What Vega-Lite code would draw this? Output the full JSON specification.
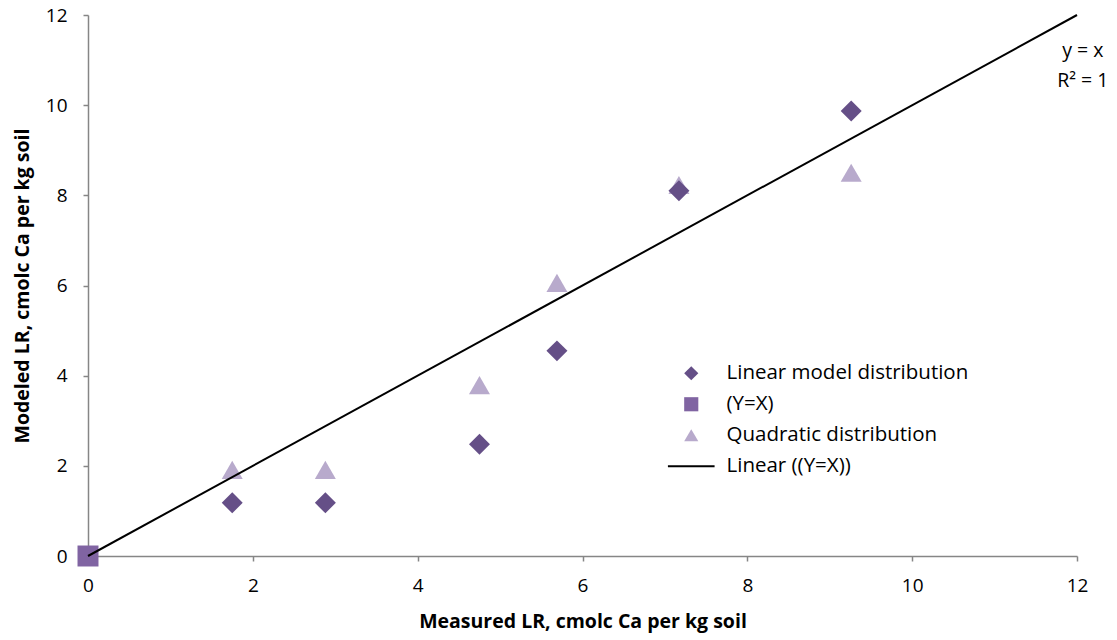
{
  "$schema": "https://vega.github.io/schema/vega-lite/v6.json",
  "width": 989,
  "height": 541,
  "autosize": {"type": "none"},
  "padding": {"left": 88, "top": 15, "right": 40, "bottom": 84},
  "background": "white",
  "config": {
    "view": {"stroke": null},
    "font": "Open Sans",
    "axis": {
      "grid": false,
      "domainColor": "#868686",
      "tickColor": "#868686",
      "tickSize": 5,
      "domainWidth": 1.5,
      "tickWidth": 1.5,
      "labelFont": "Open Sans",
      "labelFontSize": 19,
      "labelColor": "#000000",
      "labelFlush": false,
      "titleFont": "Open Sans",
      "titleFontSize": 19.5,
      "titleFontWeight": "bold",
      "titleColor": "#000000"
    }
  },
  "datasets": {
    "points": [
      {"series": "Linear model distribution", "measured": 1.75, "modeled": 1.18},
      {"series": "Linear model distribution", "measured": 2.88, "modeled": 1.18},
      {"series": "Linear model distribution", "measured": 4.75, "modeled": 2.48},
      {"series": "Linear model distribution", "measured": 5.69, "modeled": 4.55},
      {"series": "Linear model distribution", "measured": 7.17, "modeled": 8.1},
      {"series": "Linear model distribution", "measured": 9.26, "modeled": 9.87},
      {"series": "(Y=X)", "measured": 0, "modeled": 0},
      {"series": "Quadratic distribution", "measured": 1.75, "modeled": 1.91},
      {"series": "Quadratic distribution", "measured": 2.88, "modeled": 1.91},
      {"series": "Quadratic distribution", "measured": 4.75, "modeled": 3.79},
      {"series": "Quadratic distribution", "measured": 5.69, "modeled": 6.06},
      {"series": "Quadratic distribution", "measured": 7.17, "modeled": 8.23},
      {"series": "Quadratic distribution", "measured": 9.26, "modeled": 8.5}
    ],
    "trend": [
      {"measured": 0, "modeled": 0},
      {"measured": 12, "modeled": 12}
    ],
    "annotation": [
      {"measured": 12.07, "modeled": 11.2}
    ]
  },
  "layer": [
    {
      "data": {"name": "points"},
      "mark": {"type": "point", "filled": true, "opacity": 1, "size": 440},
      "encoding": {
        "x": {
          "field": "measured", "type": "quantitative",
          "scale": {"domain": [0, 12], "nice": false},
          "axis": {"values": [0, 2, 4, 6, 8, 10, 12], "format": "d", "title": "Measured LR, cmolc Ca per kg soil", "labelPadding": 15, "titlePadding": 17}
        },
        "y": {
          "field": "modeled", "type": "quantitative",
          "scale": {"domain": [0, 12], "nice": false},
          "axis": {"values": [0, 2, 4, 6, 8, 10, 12], "format": "d", "title": "Modeled LR, cmolc Ca per kg soil", "labelPadding": 16, "titlePadding": 13}
        },
        "color": {
          "field": "series", "type": "nominal",
          "scale": {
            "domain": ["Linear model distribution", "(Y=X)", "Quadratic distribution", "Linear ((Y=X))"],
            "range": ["#654F87", "#8064A2", "#B8AACC", "#000000"]
          },
          "legend": {
            "title": null,
            "orient": "none",
            "legendX": 593,
            "legendY": 348,
            "labelFontSize": 20.5,
            "labelFont": "Open Sans",
            "labelColor": "#000000",
            "labelLimit": 400,
            "symbolSize": 200,
            "rowPadding": 10,
            "labelOffset": 25
          }
        },
        "shape": {
          "field": "series", "type": "nominal",
          "scale": {
            "domain": ["Linear model distribution", "(Y=X)", "Quadratic distribution", "Linear ((Y=X))"],
            "range": ["diamond", "square", "triangle-up", "M-3.3,-0.14H3.3V0.14H-3.3Z"]
          },
          "legend": null
        },
        "order": {"field": "series", "sort": "descending"}
      }
    },
    {
      "data": {"name": "trend"},
      "mark": {"type": "line", "color": "#000000", "strokeWidth": 2},
      "encoding": {
        "x": {"field": "measured", "type": "quantitative"},
        "y": {"field": "modeled", "type": "quantitative"}
      }
    },
    {
      "data": {"name": "annotation"},
      "mark": {"type": "text", "font": "Open Sans", "fontSize": 19.5, "color": "#000000", "align": "center", "baseline": "middle", "lineHeight": 30, "clip": false},
      "encoding": {
        "x": {"field": "measured", "type": "quantitative"},
        "y": {"field": "modeled", "type": "quantitative"},
        "text": {"value": ["y = x", "R² = 1"]}
      }
    }
  ]
}
